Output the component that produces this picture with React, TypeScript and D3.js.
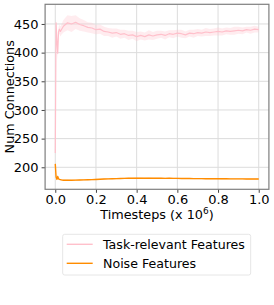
import { useEffect, useRef } from "react";
import { area, axisBottom, axisLeft, line, scaleLinear, select } from "d3";

// timesteps in millions
const timesteps = [
  0, 0.004, 0.008, 0.012, 0.016, 0.02, 0.025, 0.03,
  0.04, 0.06, 0.08, 0.1, 0.12, 0.14, 0.16, 0.18, 0.2,
  0.22, 0.24, 0.26, 0.28, 0.3, 0.32, 0.34, 0.36, 0.38, 0.4,
  0.42, 0.44, 0.46, 0.48, 0.5, 0.52, 0.54, 0.56, 0.58, 0.6,
  0.62, 0.64, 0.66, 0.68, 0.7, 0.72, 0.74, 0.76, 0.78, 0.8,
  0.82, 0.84, 0.86, 0.88, 0.9, 0.92, 0.94, 0.96, 0.98, 1.0,
];

const taskMean = [
  225, 452, 421, 399, 436, 441, 437, 440,
  446, 452, 450, 453, 449, 447, 444, 443, 440,
  441, 437, 436, 434, 435, 432, 433, 430, 431, 428,
  430, 428, 431, 429, 431, 432, 430, 433, 432, 434,
  433, 431, 434, 433, 435, 434, 436, 435, 436, 437,
  436, 438, 437, 438, 439, 438, 440, 439, 441, 440,
];

const taskSpread = [
  8, 6, 10, 12, 8, 8, 9, 9,
  11, 13, 14, 12, 11, 10, 9, 9, 8,
  8, 8, 7, 8, 7, 8, 7, 8, 7, 8,
  7, 7, 8, 7, 7, 6, 7, 6, 7, 6,
  7, 6, 6, 7, 6, 6, 7, 6, 6, 7,
  6, 6, 6, 7, 6, 6, 5, 6, 6, 5,
];

const noiseMean = [
  206, 183, 179, 184, 180, 179, 178.5, 178,
  177.5, 177.5, 177.4, 177.6, 177.8, 178, 178.2, 178.5, 178.8,
  179.2, 179.5, 179.8, 180, 180.3, 180.5, 180.6, 180.8, 180.8, 181,
  181, 180.9, 181, 180.8, 180.9, 180.8, 180.7, 180.8, 180.6, 180.6,
  180.5, 180.5, 180.4, 180.3, 180.3, 180.2, 180.1, 180.1, 180, 180,
  179.9, 179.9, 179.8, 179.8, 179.7, 179.7, 179.6, 179.6, 179.5, 179.5,
];

const noiseSpread = [
  3, 3, 2, 2, 1.5, 1.2, 1, 1,
  1, 1, 1, 1, 1, 1, 1, 1, 1,
  1, 1, 1, 1, 1, 1, 1, 1, 1, 1,
  1, 1, 1, 1, 1, 1, 1, 1, 1, 1,
  1, 1, 1, 1, 1, 1, 1, 1, 1, 1,
  1, 1, 1, 1, 1, 1, 1, 1, 1, 1,
];

const xTicks = [0, 0.2, 0.4, 0.6, 0.8, 1.0];
const yTicks = [200, 250, 300, 350, 400, 450];
const legendLabels = ["Task-relevant Features", "Noise Features"];
const seriesColors = ["pink", "darkorange"];

const FONT = "'DejaVu Sans', sans-serif";

export default function App() {
  const svgRef = useRef<SVGSVGElement | null>(null);

  useEffect(() => {
    const svg = select(svgRef.current);
    svg.selectAll("*").remove();

    const left = 45.1;
    const right = 268.9;
    const top = 4.3;
    const bottom = 189.3;

    const x = scaleLinear().domain([-0.05, 1.05]).range([left, right]);
    const y = scaleLinear().domain([161.6, 484.3]).range([bottom, top]);

    // grid
    const grid = svg.append("g");
    grid
      .selectAll(".gx")
      .data(xTicks)
      .enter()
      .append("line")
      .attr("x1", (d) => x(d))
      .attr("x2", (d) => x(d))
      .attr("y1", top)
      .attr("y2", bottom)
      .attr("stroke", "#dcdcdc")
      .attr("stroke-width", 1);
    grid
      .selectAll(".gy")
      .data(yTicks)
      .enter()
      .append("line")
      .attr("x1", left)
      .attr("x2", right)
      .attr("y1", (d) => y(d))
      .attr("y2", (d) => y(d))
      .attr("stroke", "#dcdcdc")
      .attr("stroke-width", 1);

    const idx = timesteps.map((_, i) => i);
    const series = [
      { mean: taskMean, spread: taskSpread, color: seriesColors[0], w: 1.2 },
      { mean: noiseMean, spread: noiseSpread, color: seriesColors[1], w: 1.4 },
    ];

    series.forEach((s) => {
      const band = area<number>()
        .x((i) => x(timesteps[i]))
        .y0((i) => y(s.mean[i] - s.spread[i]))
        .y1((i) => y(s.mean[i] + s.spread[i]));
      svg
        .append("path")
        .attr("d", band(idx))
        .attr("fill", s.color)
        .attr("fill-opacity", 0.3);
    });

    series.forEach((s) => {
      const ln = line<number>()
        .x((i) => x(timesteps[i]))
        .y((i) => y(s.mean[i]));
      svg
        .append("path")
        .attr("d", ln(idx))
        .attr("fill", "none")
        .attr("stroke", s.color)
        .attr("stroke-width", s.w)
        .attr("stroke-linejoin", "round");
    });

    // axes
    const yAxis = svg.append("g").attr("transform", `translate(${left},0)`);
    yAxis.call(
      axisLeft(y)
        .tickValues(yTicks)
        .tickSize(3.5)
        .tickPadding(3)
        .tickFormat((d) => String(d))
    );
    const xAxis = svg.append("g").attr("transform", `translate(0,${bottom})`);
    xAxis.call(
      axisBottom(x)
        .tickValues(xTicks)
        .tickSize(3.5)
        .tickPadding(2.2)
        .tickFormat((d) => (+d).toFixed(1))
    );
    [yAxis, xAxis].forEach((a) => {
      a.select(".domain").remove();
      a.selectAll(".tick line").attr("stroke", "#444");
      a.selectAll(".tick text")
        .attr("fill", "#000")
        .style("font-family", FONT)
        .style("font-size", "13px");
    });

    // frame
    svg
      .append("rect")
      .attr("x", left)
      .attr("y", top)
      .attr("width", right - left)
      .attr("height", bottom - top)
      .attr("fill", "none")
      .attr("stroke", "#7f7f7f")
      .attr("stroke-width", 1.2);

    // axis labels
    const xl = svg
      .append("text")
      .attr("x", (left + right) / 2)
      .attr("y", 219)
      .attr("text-anchor", "middle")
      .style("font-family", FONT)
      .style("font-size", "12.8px");
    xl.append("tspan").text("Timesteps (x 10");
    xl.append("tspan").attr("dy", -5).style("font-size", "9px").text("6");
    xl.append("tspan").attr("dy", 5).text(")");

    svg
      .append("text")
      .attr("transform", `translate(14,${(top + bottom) / 2}) rotate(-90)`)
      .attr("text-anchor", "middle")
      .style("font-family", FONT)
      .style("font-size", "12.8px")
      .text("Num Connections");

    // legend
    const lg = svg.append("g");
    lg.append("rect")
      .attr("x", 62.7)
      .attr("y", 234.3)
      .attr("width", 188)
      .attr("height", 40.7)
      .attr("rx", 2)
      .attr("fill", "#fff")
      .attr("stroke", "#e6e6e6")
      .attr("stroke-width", 1);
    legendLabels.forEach((label, i) => {
      const ly = 244.3 + i * 19;
      lg.append("line")
        .attr("x1", 66.7)
        .attr("x2", 92.7)
        .attr("y1", ly)
        .attr("y2", ly)
        .attr("stroke", seriesColors[i])
        .attr("stroke-width", 1.4);
      lg.append("text")
        .attr("x", 103)
        .attr("y", ly)
        .attr("dy", "0.35em")
        .style("font-family", FONT)
        .style("font-size", "12.6px")
        .text(label);
    });
  }, []);

  return (
    <svg
      ref={svgRef}
      width={274}
      height={305}
      style={{ position: "absolute", left: 0, top: 0, background: "#fff" }}
    ></svg>
  );
}
